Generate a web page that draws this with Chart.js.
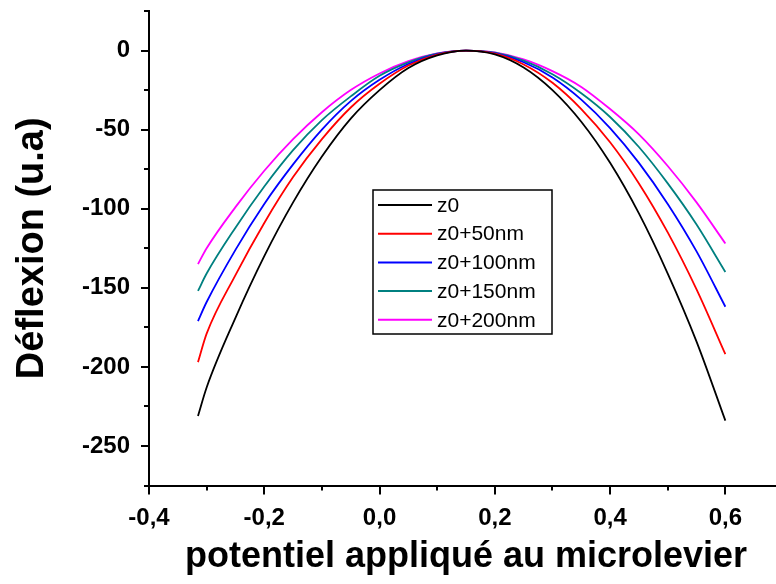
<!DOCTYPE html>
<html>
<head>
<meta charset="utf-8">
<script src="https://cdn.jsdelivr.net/npm/chart.js@4"></script>
<style>
  html, body { margin: 0; padding: 0; background: #fff; overflow: hidden; }
  canvas { display: block; }
</style>
</head>
<body>
<canvas id="c" width="783" height="584"></canvas>
<script>
// ---- data ----
const xValues = [-0.315, -0.30, -0.25, -0.20, -0.15, -0.10, -0.05, 0.00, 0.05, 0.10, 0.15, 0.20, 0.25, 0.30, 0.35, 0.40, 0.45, 0.50, 0.55, 0.60];
const z0   = [-231, -213, -169, -130, -96, -67, -43, -25, -11, -3, 0, -2.4, -10.7, -25, -45, -71, -103, -141, -184, -234];
const z50  = [-197, -179, -142, -109, -80, -56, -36, -21, -9.5, -2.6, 0, -2, -8.8, -20.4, -37, -58, -84, -115, -151, -192];
const z100 = [-171, -159, -126, -97, -72, -50, -32, -18.5, -8.5, -2.3, 0, -1.7, -7.4, -17, -31, -49, -71, -97, -127, -162];
const z150 = [-152, -141, -112, -86, -63, -44, -29, -16, -7.5, -2, 0, -1.4, -6.4, -15, -27, -42, -61, -84, -110, -140];
const z200 = [-135, -125, -99, -76, -56, -39, -25, -14.5, -6.7, -1.8, 0, -1.2, -5.6, -13, -23, -37, -53, -73, -96, -122];
const seriesLabels = ['z0', 'z0+50nm', 'z0+100nm', 'z0+150nm', 'z0+200nm'];
const seriesColors = ['#000000', '#ff0000', '#0000ff', '#008080', '#ff00ff'];
const seriesValues = [z0, z50, z100, z150, z200];
const xTitle = 'potentiel appliqué au microlevier';
const yTitle = 'Déflexion (u.a)';

const datasets = seriesValues.map((vals, i) => ({
  label: seriesLabels[i],
  data: xValues.map((x, j) => ({ x: x, y: vals[j] })),
  borderColor: seriesColors[i],
  backgroundColor: seriesColors[i],
  borderWidth: 1.8,
  pointRadius: 0,
  cubicInterpolationMode: 'monotone',
  fill: false
}));

// custom tick marks (major/minor) and boxed legend
const tickPlugin = {
  id: 'tickMarks',
  afterDraw(chart) {
    const ctx = chart.ctx;
    ctx.save();
    ctx.strokeStyle = '#000';
    ctx.lineWidth = 2;
    const xs = chart.scales.x, ys = chart.scales.y;
    xs.ticks.forEach(t => {
      const px = Math.round(xs.getPixelForValue(t.value));
      const isMajor = Math.abs(Math.round(t.value * 10)) % 2 === 0;
      const len = isMajor ? 9 : 5;
      ctx.beginPath();
      ctx.moveTo(px, xs.top);
      ctx.lineTo(px, xs.top + len);
      ctx.stroke();
    });
    ys.ticks.forEach(t => {
      const py = Math.round(ys.getPixelForValue(t.value));
      const isMajor = Math.round(t.value) % 50 === 0;
      const len = isMajor ? 8 : 5;
      ctx.beginPath();
      ctx.moveTo(ys.right, py);
      ctx.lineTo(ys.right - len, py);
      ctx.stroke();
    });
    ctx.restore();
  }
};

const legendPlugin = {
  id: 'boxLegend',
  afterDraw(chart) {
    const ctx = chart.ctx;
    const box = { left: 373, top: 190, right: 552, bottom: 334 };
    ctx.save();
    ctx.fillStyle = '#fff';
    ctx.fillRect(box.left, box.top, box.right - box.left, box.bottom - box.top);
    ctx.strokeStyle = '#000';
    ctx.lineWidth = 1.5;
    ctx.strokeRect(box.left, box.top, box.right - box.left, box.bottom - box.top);
    ctx.font = '21px "Liberation Sans", Arial, sans-serif';
    ctx.textBaseline = 'middle';
    ctx.textAlign = 'left';
    chart.data.datasets.forEach((ds, i) => {
      const y = 205 + i * 28.7;
      ctx.strokeStyle = ds.borderColor;
      ctx.lineWidth = 2;
      ctx.beginPath();
      ctx.moveTo(378, y);
      ctx.lineTo(432, y);
      ctx.stroke();
      ctx.fillStyle = '#000';
      ctx.fillText(ds.label, 437, y + 1);
    });
    ctx.restore();
  }
};

new Chart(document.getElementById('c'), {
  type: 'line',
  data: { datasets: datasets },
  options: {
    responsive: false,
    devicePixelRatio: 1,
    animation: false,
    layout: { padding: { top: 11, left: 0, right: 0, bottom: 0 } },
    plugins: { legend: { display: false }, tooltip: { enabled: false } },
    scales: {
      x: {
        type: 'linear',
        position: 'bottom',
        min: -0.4,
        max: 0.7,
        afterFit: s => { s.height = 98.5; s.paddingLeft = 0; s.paddingRight = 0; },
        afterBuildTicks: s => {
          s.ticks = [];
          for (let k = -4; k <= 7; k++) s.ticks.push({ value: k / 10 });
        },
        ticks: {
          autoSkip: false,
          maxRotation: 0,
          padding: 9,
          color: '#000',
          font: { family: '"Liberation Sans", Arial, sans-serif', size: 24, weight: 'bold' },
          callback: v => (Math.abs(Math.round(v * 10)) % 2 === 0 && Math.round(v * 10) <= 6) ? (Math.round(v * 10) / 10).toFixed(1).replace('.', ',') : ''
        },
        grid: { drawOnChartArea: false, drawTicks: true, tickLength: 9, tickColor: 'rgba(0,0,0,0)' },
        border: { color: '#000', width: 2 },
        title: {
          display: true,
          text: xTitle,
          color: '#000',
          font: { family: '"Liberation Sans", Arial, sans-serif', size: 36, weight: 'bold' },
          padding: { top: 0, bottom: 5 }
        }
      },
      y: {
        type: 'linear',
        min: -275,
        max: 25,
        afterFit: s => { s.width = 149; s.paddingTop = 0; s.paddingBottom = 0; },
        afterBuildTicks: s => {
          s.ticks = [];
          for (let v = -275; v <= 25; v += 25) s.ticks.push({ value: v });
        },
        ticks: {
          autoSkip: false,
          padding: 11,
          color: '#000',
          font: { family: '"Liberation Sans", Arial, sans-serif', size: 24, weight: 'bold' },
          callback: v => (Math.round(v) % 50 === 0) ? String(Math.round(v)) : ''
        },
        grid: { drawOnChartArea: false, drawTicks: true, tickLength: 8, tickColor: 'rgba(0,0,0,0)' },
        border: { color: '#000', width: 2 },
        title: {
          display: true,
          text: yTitle,
          color: '#000',
          font: { family: '"Liberation Sans", Arial, sans-serif', size: 38, weight: 'bold' },
          padding: { top: 10, bottom: 0 }
        }
      }
    }
  },
  plugins: [tickPlugin, legendPlugin]
});
</script>
</body>
</html>
